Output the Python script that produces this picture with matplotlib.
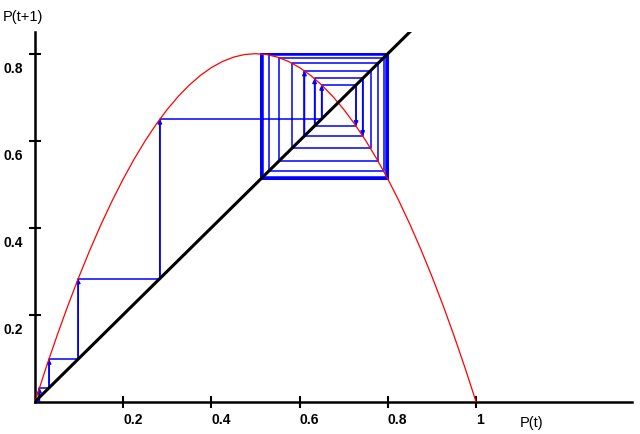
import matplotlib
matplotlib.use("Agg")
import matplotlib.pyplot as plt
from matplotlib.transforms import ScaledTranslation

# red curve
curve_x = [0.0, 0.025, 0.05, 0.075, 0.1, 0.125, 0.15, 0.175, 0.2, 0.225, 0.25,
           0.275, 0.3, 0.325, 0.35, 0.375, 0.4, 0.425, 0.45, 0.475, 0.5,
           0.525, 0.55, 0.575, 0.6, 0.625, 0.65, 0.675, 0.7, 0.725, 0.75,
           0.775, 0.8, 0.825, 0.85, 0.875, 0.9, 0.925, 0.95, 0.975, 1.0]
curve_y = [0.0, 0.078, 0.152, 0.222, 0.288, 0.35, 0.408, 0.462, 0.512, 0.558, 0.6,
           0.638, 0.672, 0.702, 0.728, 0.75, 0.768, 0.782, 0.792, 0.798, 0.8,
           0.798, 0.792, 0.782, 0.768, 0.75, 0.728, 0.702, 0.672, 0.638, 0.6,
           0.558, 0.512, 0.462, 0.408, 0.35, 0.288, 0.222, 0.152, 0.078, 0.0]

# successive values P(t) of the cobweb
iterates = [0.01, 0.032, 0.098, 0.283, 0.650, 0.728, 0.634, 0.743, 0.611,
            0.761, 0.583, 0.778, 0.553, 0.791, 0.530, 0.797, 0.517, 0.799,
            0.514, 0.799, 0.513, 0.800, 0.513, 0.800, 0.513, 0.800]
n_arrows = 9

diag_end = 0.85
xticks = [0.2, 0.4, 0.6, 0.8, 1]
xtick_labels = ["0.2", "0.4", "0.6", "0.8", "1"]
yticks = [0.2, 0.4, 0.6, 0.8]
ytick_labels = ["0.2", "0.4", "0.6", "0.8"]

plt.rcParams["font.family"] = ["Liberation Sans", "DejaVu Sans"]

fig = plt.figure(figsize=(6.4, 4.35), dpi=100)
ax = fig.add_axes([0.0547, 0.0743, 0.933, 0.85])

# cobweb path: up to the curve, across to the diagonal, repeat
px = [iterates[0], iterates[0]]
py = [0.0, iterates[1]]
for a, b in zip(iterates[1:-1], iterates[2:]):
    px += [a, a]
    py += [a, b]
ax.plot(px, py, color="#0000ff", lw=1.1, zorder=2)

# arrowheads on the first vertical steps
for i in range(n_arrows):
    xv = iterates[i]
    y0 = 0.0 if i == 0 else iterates[i]
    y1 = iterates[i + 1]
    ax.annotate("", xy=(xv, y1), xytext=(xv, y0),
                arrowprops=dict(arrowstyle="-|>", color="#0000ff", lw=1.1,
                                mutation_scale=6, shrinkA=0, shrinkB=0),
                zorder=3)

ax.plot(curve_x, curve_y, color="#ff0000", lw=0.9, zorder=4)
ax.plot([0, diag_end], [0, diag_end], color="black", lw=2.2, zorder=5)

ax.set_xlim(0, 1.354)
ax.set_ylim(0, 0.85)
for s in ["top", "right"]:
    ax.spines[s].set_visible(False)
for s in ["left", "bottom"]:
    ax.spines[s].set_linewidth(1.8)

ax.set_xticks(xticks)
ax.set_xticklabels(xtick_labels, fontsize=10, fontweight="bold")
ax.set_yticks(yticks)
ax.set_yticklabels(ytick_labels, fontsize=10, fontweight="bold")
ax.tick_params(axis="x", direction="inout", length=9, width=1.5, pad=3)
ax.tick_params(axis="y", direction="inout", length=9, width=1.5, pad=4)
for lbl in ax.get_xticklabels():
    lbl.set_horizontalalignment("left")
shift = ScaledTranslation(0, -5 / 72, fig.dpi_scale_trans)
for t in ax.yaxis.get_major_ticks():
    t.label1.set_verticalalignment("top")
    t.label1.set_transform(t.label1.get_transform() + shift)

fig.text(3 / 640, 1 - 17 / 435, "P(t+1)", fontsize=10.5, va="center", ha="left")
fig.text(520 / 640, 1 - 423 / 435, "P(t)", fontsize=10.5, va="center", ha="left")

fig.savefig("out.png", dpi=100)
